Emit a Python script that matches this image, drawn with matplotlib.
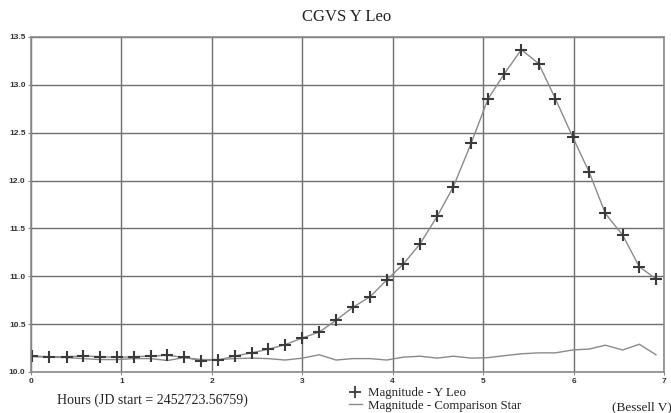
import matplotlib
matplotlib.use("Agg")
import matplotlib.pyplot as plt
from matplotlib.lines import Line2D
import numpy as np

# hours since JD start
hours = [0.014, 0.202, 0.395, 0.578, 0.763, 0.954, 1.139, 1.324, 1.508, 1.692,
         1.884, 2.071, 2.256, 2.441, 2.624, 2.809, 3.000, 3.188, 3.373, 3.557,
         3.749, 3.933, 4.117, 4.302, 4.493, 4.670, 4.869, 5.054, 5.231, 5.422,
         5.614, 5.798, 5.990, 6.174, 6.351, 6.543, 6.727, 6.911]

mag_yleo = [10.167, 10.160, 10.160, 10.167, 10.160, 10.153, 10.160, 10.167, 10.174, 10.153,
            10.118, 10.125, 10.167, 10.201, 10.237, 10.285, 10.355, 10.418, 10.540, 10.675,
            10.786, 10.960, 11.127, 11.339, 11.628, 11.934, 12.394, 12.853, 13.111, 13.368,
            13.222, 12.857, 12.456, 12.085, 11.657, 11.430, 11.099, 10.974]

mag_comp = [10.160, 10.155, 10.150, 10.140, 10.130, 10.130, 10.140, 10.140, 10.120, 10.150,
            10.130, 10.130, 10.140, 10.145, 10.140, 10.125, 10.145, 10.180, 10.125, 10.140,
            10.140, 10.125, 10.155, 10.165, 10.145, 10.165, 10.145, 10.150, 10.170, 10.190,
            10.200, 10.200, 10.230, 10.240, 10.280, 10.230, 10.290, 10.180]

xticks = [0, 1, 2, 3, 4, 5, 6, 7]
yticks = [10.0, 10.5, 11.0, 11.5, 12.0, 12.5, 13.0, 13.5]

fig = plt.figure(figsize=(6.71, 4.13), dpi=100)
ax = fig.add_axes([31/671, 1 - 372/413, 633/671, 335/413])

ax.plot(hours, mag_comp, color="#8a8a8a", lw=1.0)
ax.plot(hours, mag_yleo, color="#8a8a8a", lw=1.0, marker="+", ms=9,
        mec="#3a3a3a", mew=1.5)

ax.set_xlim(0, 7)
ax.set_ylim(10.0, 13.5)
ax.set_xticks(xticks)
ax.set_yticks(yticks)
ax.set_xticklabels([str(t) for t in xticks])
ax.set_yticklabels(["%.1f" % t for t in yticks])
ax.grid(True, color="#6e6e6e", lw=1.0)
ax.set_axisbelow(True)
for s in ax.spines.values():
    s.set_color("#8a8a8a")
    s.set_linewidth(1.2)
ax.tick_params(length=2, width=0.8, color="#8a8a8a", pad=2)
for lab in ax.get_xticklabels() + ax.get_yticklabels():
    lab.set_fontfamily("Liberation Sans")
    lab.set_fontweight("bold")
    lab.set_fontsize(6)
    lab.set_color("#333333")

fig.text(347/671, 1 - 17/413, "CGVS Y Leo", ha="center", va="center",
         family="Liberation Serif", fontsize=12, color="#222222")
fig.text(57/671, 1 - 400/413, "Hours (JD start = 2452723.56759)", ha="left",
         va="center", family="Liberation Serif", fontsize=10, color="#222222")
fig.text(612/671, 1 - 407/413, "(Bessell V)", ha="left", va="center",
         family="Liberation Serif", fontsize=9.5, color="#222222")

handles = [
    Line2D([], [], ls="none", marker="+", ms=8, mec="#3a3a3a", mew=1.3),
    Line2D([], [], color="#8a8a8a", lw=1.0),
]
fig.legend(handles, ["Magnitude - Y Leo", "Magnitude - Comparison Star"],
           loc="upper left", bbox_to_anchor=(349/671, 1 - 387/413),
           frameon=False, prop={"family": "Liberation Serif", "size": 9.3},
           handlelength=1.0, handletextpad=0.5, labelspacing=0.05,
           borderpad=0, borderaxespad=0, labelcolor="#222222")

fig.savefig("out.png", dpi=100)
